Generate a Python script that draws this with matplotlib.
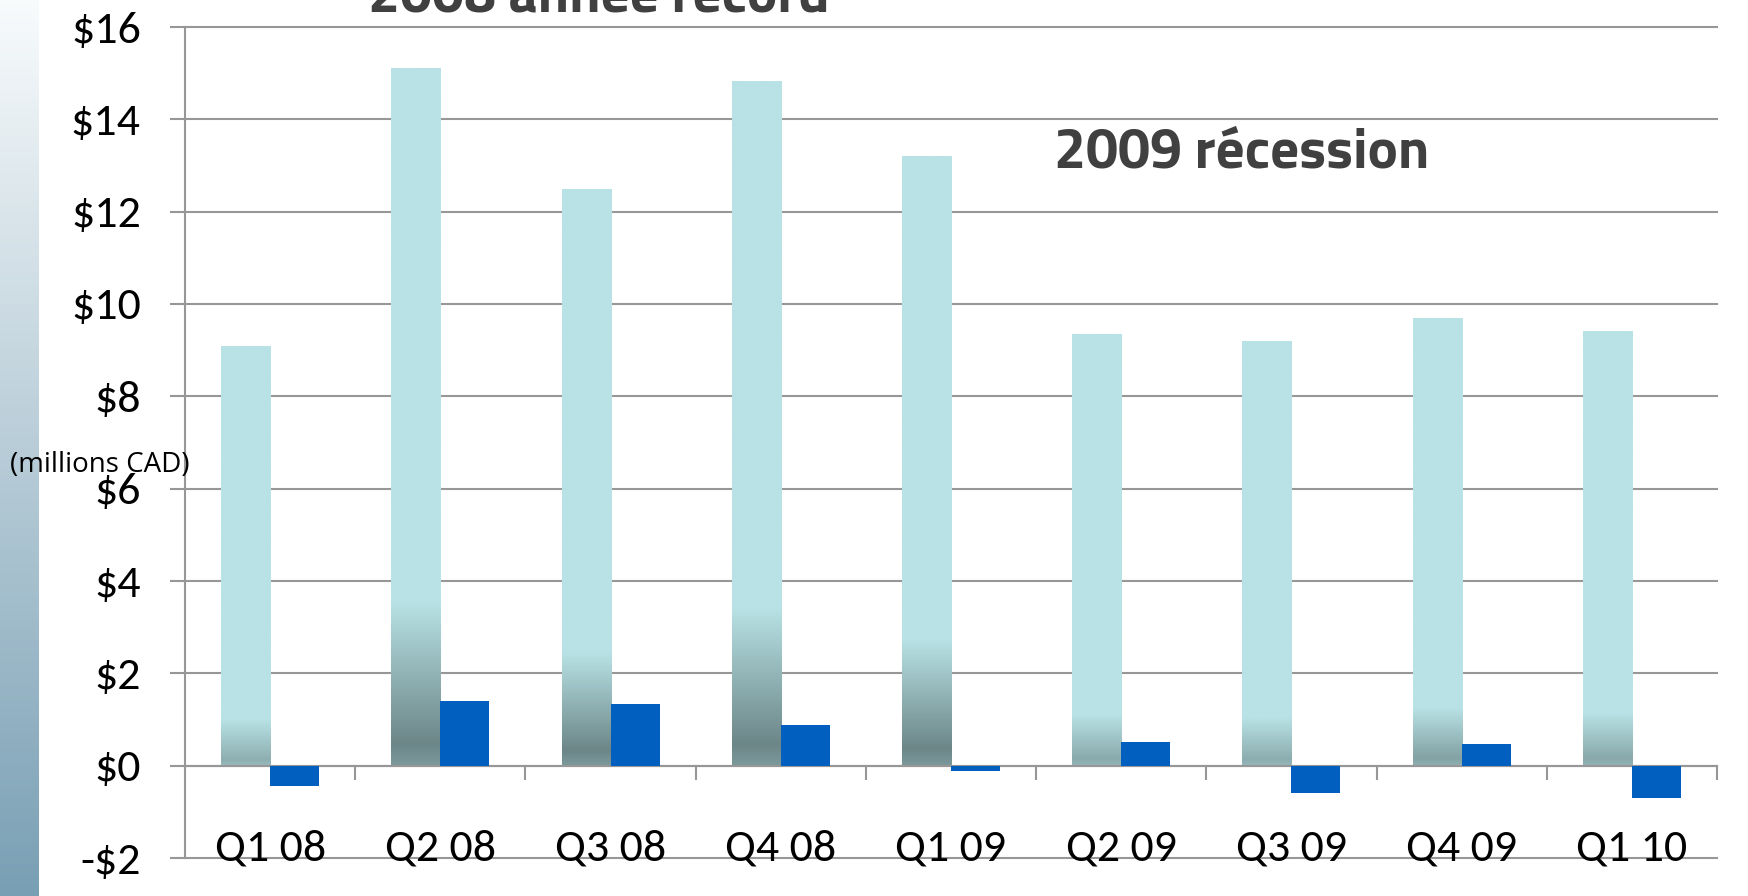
import numpy as np
import matplotlib
matplotlib.use("Agg")
import matplotlib.pyplot as plt
from matplotlib.colors import LinearSegmentedColormap
from matplotlib.ticker import FixedLocator, FuncFormatter
from matplotlib.transforms import blended_transform_factory

# data (millions CAD)
quarters = ["Q1 08", "Q2 08", "Q3 08", "Q4 08", "Q1 09",
            "Q2 09", "Q3 09", "Q4 09", "Q1 10"]
revenue = [9.10, 15.11, 12.50, 14.82, 13.20, 9.34, 9.19, 9.70, 9.41]
net_income = [-0.43, 1.40, 1.33, 0.89, -0.12, 0.51, -0.60, 0.46, -0.69]
yticks = list(range(-2, 17, 2))

LIGHT = np.array([184, 226, 229]) / 255
DARK = np.array([108, 134, 136]) / 255
BLUE = "#005FBF"
GRID = "#979797"
W, H, DPI = 1748, 896, 100
BODY = ["Carlito", "Lato", "DejaVu Sans"]
HEAD = ["Titillium Web", "Barlow", "DejaVu Sans"]


def bar_gradient(h, n=300):
    # shaded foot of the revenue bars, taller bars get a longer dark zone
    g = 1.0 + (h - 9.1) * 0.42
    amp = min(1.0, g / 1.8)
    yp = 0.13 * g
    y = np.linspace(0, h, n)
    s = np.where(y > yp, (g - y) / (g - yp), 0.8 + 0.2 * y / yp)
    s = np.clip(s, 0, 1) * amp
    rgb = LIGHT[None, :] + (DARK - LIGHT)[None, :] * s[:, None]
    return rgb[::-1][:, None, :]


def main():
    fig = plt.figure(figsize=(W / DPI, H / DPI), dpi=DPI)

    # left decorative strip
    sax = fig.add_axes([0, 0, 39 / W, 1])
    strip = LinearSegmentedColormap.from_list("strip", ["#F8FBFC", "#799FB4"])
    sax.imshow(np.linspace(0, 1, 256)[:, None], cmap=strip, aspect="auto")
    sax.axis("off")

    ax = fig.add_axes([185 / W, 38 / H, 1532 / W, 831 / H])
    x = np.arange(len(quarters))
    bw = 0.288
    light = ax.bar(x - bw / 2, revenue, width=bw, color=LIGHT, zorder=2,
                   linewidth=0)
    for rect, h in zip(light.patches, revenue):
        x0 = rect.get_x()
        im = ax.imshow(bar_gradient(h), extent=(x0, x0 + bw, 0, h),
                       aspect="auto", zorder=2.1, interpolation="bilinear")
        im.set_clip_path(rect)
    ax.bar(x + bw / 2, net_income, width=bw, color=BLUE, zorder=3, linewidth=0)

    ax.set_xlim(-0.5, len(quarters) - 0.5)
    ax.set_ylim(-2, 16)

    ax.yaxis.set_major_locator(FixedLocator(yticks))
    ax.yaxis.set_major_formatter(FuncFormatter(
        lambda v, p: f"-${abs(int(v))}" if v < 0 else f"${int(v)}"))
    ax.grid(axis="y", color=GRID, linewidth=1.5, zorder=1)
    for line in ax.get_ygridlines():
        line.set_clip_on(False)
    ax.tick_params(axis="y", length=10.8, width=1.5, color=GRID, pad=21,
                   labelsize=33)
    for lab in ax.get_yticklabels():
        lab.set_family(BODY)

    ax.xaxis.set_major_locator(FixedLocator(x + 0.5))
    ax.tick_params(axis="x", length=10, width=1.5, color=GRID,
                   labelbottom=False, direction="out")
    ax.spines["bottom"].set_position(("data", 0))
    ax.spines["bottom"].set_color(GRID)
    ax.spines["bottom"].set_linewidth(1.5)
    ax.spines["left"].set_color(GRID)
    ax.spines["left"].set_linewidth(1.5)
    ax.spines[["top", "right"]].set_visible(False)

    tr = blended_transform_factory(ax.transData, ax.transAxes)
    for xi, q in zip(x, quarters):
        ax.text(xi, -0.003, q, transform=tr, ha="center", va="baseline",
                fontsize=33, family=BODY, zorder=4)

    fig.text(100 / W, 1 - 465 / H, "(millions CAD)", ha="center",
             va="center", fontsize=20, family=["Open Sans", "DejaVu Sans"])

    head = dict(fontsize=41, fontweight="bold", color="#404040", family=HEAD)
    fig.text(599 / W, 1 - 11 / H, "2008 année record", ha="center",
             va="baseline", **head)
    fig.text(1054 / W, 1 - 168 / H, "2009 récession", ha="left",
             va="baseline", **head)

    fig.savefig("out.png", dpi=DPI)
    plt.close(fig)


if __name__ == "__main__":
    main()
